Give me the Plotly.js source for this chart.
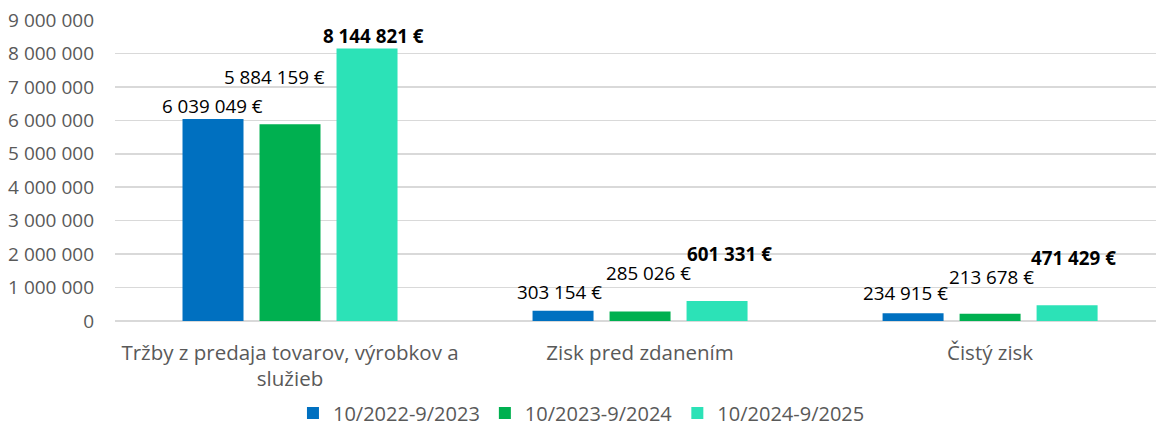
<!DOCTYPE html>
<html>
<head>
<meta charset="utf-8">
<script src="https://cdn.plot.ly/plotly-3.0.1.min.js"></script>
<style>html,body{margin:0;padding:0;background:#fff;}#chart{width:1156px;height:427px;}</style>
</head>
<body>
<div id="chart"></div>
<script>
const categories = ["Tržby z predaja tovarov, výrobkov a<br>služieb", "Zisk pred zdanením", "Čistý zisk"];
const seriesNames = ["10/2022-9/2023", "10/2023-9/2024", "10/2024-9/2025"];
const values2023 = [6039049, 303154, 234915];
const values2024 = [5884159, 285026, 213678];
const values2025 = [8144821, 601331, 471429];
const yTicks = [0, 1000000, 2000000, 3000000, 4000000, 5000000, 6000000, 7000000, 8000000, 9000000];

const colors = ["#0070C0", "#00B050", "#2CE2B7"];
const allValues = [values2023, values2024, values2025];
const FONT = "Open Sans, Noto Sans, sans-serif";

const traces = allValues.map((vals, j) => ({
  type: "bar",
  name: seriesNames[j],
  x: [0, 1, 2],
  y: vals,
  marker: {color: colors[j]},
  hoverinfo: "skip"
}));

function fmt(v) {
  return String(v).replace(/\B(?=(\d{3})+(?!\d))/g, " ") + " €";
}

// label placement (pixel nudges, per category i and series j)
const xShifts = [[-1, -16, 6], [-4, 8, 12], [-8, 1, 6]];
const yShifts = [[13, 47, 13], [19, 38, 47], [20, 37, 47]];
const slot = 0.22;
const annotations = [];
for (let i = 0; i < categories.length; i++) {
  for (let j = 0; j < 3; j++) {
    const v = allValues[j][i];
    const bold = j === 2;
    annotations.push({
      x: i + (j - 1) * slot,
      y: v,
      xref: "x", yref: "y",
      text: bold ? "<b>" + fmt(v) + "</b>" : fmt(v),
      showarrow: false,
      xanchor: "center", yanchor: "middle",
      xshift: xShifts[i][j], yshift: yShifts[i][j],
      font: {family: FONT, size: 18.8, color: "#000000"}
    });
  }
}

const layout = {
  width: 1156, height: 427,
  margin: {l: 115, r: 0, t: 20, b: 106},
  paper_bgcolor: "#ffffff",
  plot_bgcolor: "#ffffff",
  separators: ", ",
  barmode: "group",
  bargap: 0.34,
  bargroupgap: 0.208,
  showlegend: true,
  legend: {
    orientation: "h",
    xref: "container", yref: "container",
    x: 0.503, xanchor: "center",
    y: 0.033, yanchor: "middle",
    font: {family: FONT, size: 20, color: "#595959"},
    itemwidth: 30,
    traceorder: "normal"
  },
  xaxis: {
    type: "linear",
    range: [-0.5, 2.474],
    tickvals: [0, 1, 2],
    ticktext: categories,
    showgrid: false,
    zeroline: false,
    showline: false,
    ticks: "",
    ticklabelstandoff: 17,
    tickfont: {family: FONT, size: 20.5, color: "#595959"},
    fixedrange: true
  },
  yaxis: {
    range: [0, 9000000],
    tickvals: yTicks,
    tickformat: ",d",
    showgrid: true,
    gridcolor: "#d9d9d9",
    gridwidth: 1.5,
    zeroline: true,
    zerolinecolor: "#d9d9d9",
    zerolinewidth: 1.5,
    showline: false,
    ticks: "",
    ticklabelstandoff: 20,
    tickfont: {family: FONT, size: 19, color: "#595959"},
    fixedrange: true
  },
  annotations: annotations
};

Plotly.newPlot("chart", traces, layout, {displayModeBar: false, staticPlot: true});
</script>
</body>
</html>
